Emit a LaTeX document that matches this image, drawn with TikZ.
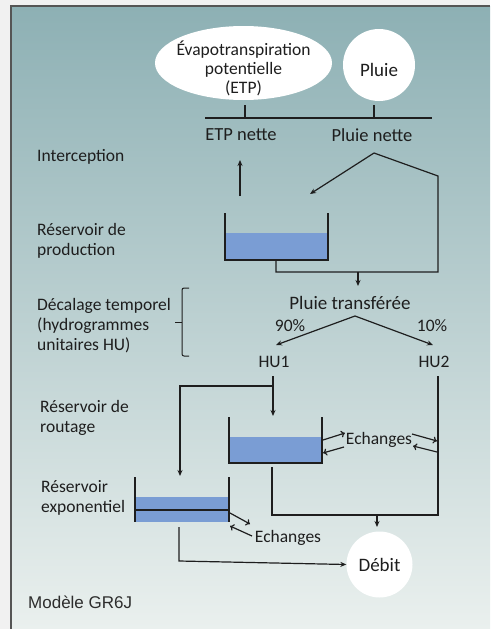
\documentclass[tikz,border=0pt]{standalone}
\usepackage{fontspec}
\setmainfont{Carlito}
\newfontfamily\arialfont{Liberation Sans}
\usetikzlibrary{arrows.meta,shapes.geometric}
\definecolor{bgtop}{RGB}{141,176,180}
\definecolor{bgmid}{RGB}{178,200,201}
\definecolor{bgbot}{RGB}{234,240,238}
\definecolor{water}{RGB}{122,157,212}
\definecolor{ink}{RGB}{30,30,30}
\definecolor{outerbg}{RGB}{241,241,241}
\definecolor{framec}{RGB}{85,85,85}
\begin{document}
\begin{tikzpicture}[x=1pt,y=-1pt,
  every node/.style={text=ink},
  lbl/.style={font=\fontsize{17.5}{20}\selectfont, inner sep=0pt},
  side/.style={font=\fontsize{17.5}{20}\selectfont, align=left, anchor=west, inner sep=0pt},
  bubble/.style={fill=white, inner sep=0pt},
  wire/.style={draw=ink, line width=1.2pt},
  flow/.style={wire, -{Stealth[length=6pt,width=5pt]}},
  xch/.style={draw=ink, line width=1.2pt, -{To[length=4pt,width=7pt]}},
  wall/.style={draw=ink, line width=1.4pt},
  waterfill/.style={fill=water}
]
\useasboundingbox (0,0) rectangle (490,629);
\fill[outerbg] (0,0) rectangle (490,629);
\shade[top color=bgtop, middle color=bgmid, bottom color=bgbot] (11,6) rectangle (490,629);
\draw[framec, line width=2pt] (11,629) -- (11,6) -- (490,6);

% inputs
\node[bubble, ellipse, minimum width=177pt, minimum height=74pt] (etp) at (243.5,63) {};
\node[align=center, inner sep=0pt, font=\fontsize{17.5}{19}\selectfont] (etptxt) at (243.5,68) {Évapotranspiration\\potentielle\\(ETP)};
\node[bubble, circle, minimum size=72pt] (pluie) at (379,65) {};
\node[inner sep=0pt, font=\fontsize{19}{20}\selectfont] (pluietxt) at (379,70) {Pluie};

% interception bar
\coordinate (barL) at (205,118);
\coordinate (barR) at (432,118);
\coordinate (tickE) at (245,105);
\coordinate (tickP) at (374,105);
\draw[wire] (barL) -- (barR);
\draw[wire] (tickE) -- (tickE |- barL);
\draw[wire] (tickP) -- (tickP |- barL);

\node[lbl, font=\fontsize{18.5}{20}\selectfont] (etpn) at (241,135) {ETP nette};
\node[lbl, font=\fontsize{18.5}{20}\selectfont] (pn) at (372,135) {Pluie nette};

\node[side] (interc) at (37,157) {Interception};
\node[side] (lprod) at (37,241) {Réservoir de\\production};
\node[side] (ldec) at (37,326) {Décalage temporel\\(hydrogrammes\\unitaires HU)};
\node[side] (lrout) at (40,418) {Réservoir de\\routage};
\node[side] (lexp) at (41,498) {Réservoir\\exponentiel};
\node[anchor=west, inner sep=0pt, font=\arialfont\fontsize{17}{20}\selectfont, text={rgb,255:red,45;green,45;blue,45}] (model) at (28,602) {Modèle GR6J};

% brace
\coordinate (brT) at (189,288);
\coordinate (brB) at (189,356);
\draw[wire, line width=1pt, rounded corners=2pt] (brT) -- (182,288) -- (182,356) -- (brB);
\draw[wire, line width=1pt] (182,322) -- (175,322);

% production reservoir
\fill[waterfill] (225,233) rectangle (328,260);
\draw[wall] (225,213) -- (225,260) -- (328,260) -- (328,213);
\coordinate (prodOut) at (276,260);
\coordinate (prodIn) at (310,194);
\coordinate (etpFrom) at (240,196);

% ETP nette up
\draw[flow] (etpFrom) -- (240,160);
% pluie nette split
\coordinate (pnSplit) at (374,153);
\coordinate (bypass) at (438,176);
\coordinate (joinC) at (358,272);
\draw[flow] (pnSplit) -- (prodIn);
\draw[wire] (pnSplit) -- (bypass) -- (438,272) -- (276,272) -- (prodOut);

\node[lbl, font=\fontsize{19}{20}\selectfont] (ptr) at (350,303) {Pluie transférée};
\draw[flow] (joinC) -- (358,286);

\coordinate (ptrSplit) at (355,316);
\node[lbl] (p90) at (290,326) {90\%};
\node[lbl] (p10) at (432,326) {10\%};
\node[lbl] (hu1) at (274,362) {HU1};
\node[lbl] (hu2) at (434,362) {HU2};
\draw[flow] (ptrSplit) -- (276,345);
\draw[flow] (ptrSplit) -- (433,345);

% HU1 routes
\coordinate (hu1Out) at (273,376);
\draw[flow] (hu1Out) -- (273,416);
\draw[flow] (273,386) -- (180,386) -- (180,476);

% routing reservoir
\fill[waterfill] (229,437) rectangle (322,463);
\draw[wall] (229,417) -- (229,463) -- (322,463) -- (322,417);
\coordinate (routOut) at (272,467);

% HU2 and outflow
\coordinate (hu2Out) at (438,376);
\draw[wire] (hu2Out) -- (438,515) -- (272,515) -- (routOut);
\draw[flow] (377,515) -- (377,527);

% exchanges (routing)
\node[lbl] (ech1) at (379,440) {Echanges};
\draw[xch] (323,440) -- (345,433);
\draw[xch] (344,447) -- (323,453);
\draw[xch] (412,434) -- (437,441);
\draw[xch] (437,452) -- (413,446);

% exponential reservoir
\fill[waterfill] (135,497) rectangle (229,522);
\draw[wall] (135,477) -- (135,522);
\draw[wall] (229,477) -- (229,522);
\draw[wall] (135,510) -- (229,510);
\coordinate (expOut) at (179,527);

\node[lbl] (ech2) at (288,538) {Echanges};
\draw[xch] (230,513) -- (250,524);
\draw[xch] (252,536) -- (230,526);

% outlet
\node[bubble, circle, minimum size=66pt, font=\fontsize{19}{20}\selectfont] (debit) at (379.5,564.5) {Débit};
\draw[flow] (expOut) -- (179,561) -- (debit.west);
\end{tikzpicture}
\end{document}
